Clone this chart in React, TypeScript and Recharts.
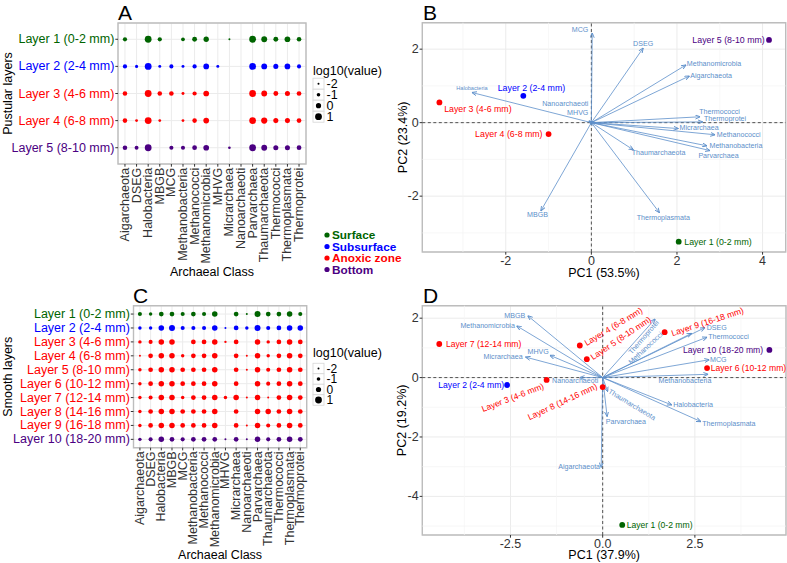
import React from "react";
import {
  ScatterChart,
  Scatter,
  XAxis,
  YAxis,
  CartesianGrid,
  ReferenceLine,
  ReferenceArea,
} from "recharts";

const FONT = '"Liberation Sans", Arial, Helvetica, sans-serif';
const TICK_COLOR = "#333333";
const GRID_COLOR = "#ebebeb";
const MINOR_GRID_COLOR = "#f4f4f4";
const BORDER_COLOR = "#bdbdbd";
const ARROW_COLOR = "#5d8fca";
const ZERO_LINE_COLOR = "#404040";

const ZONE_KEYS = ["surface", "subsurface", "anoxic", "bottom"];
const ZONE_LABELS = ["Surface", "Subsurface", "Anoxic zone", "Bottom"];
const ZONE_COLORS: Record<string, string> = {
  surface: "#006400",
  subsurface: "#0000ff",
  anoxic: "#ff0000",
  bottom: "#4b0082",
};

const CLASSES = [
  "Aigarchaeota",
  "DSEG",
  "Halobacteria",
  "MBGB",
  "MCG",
  "Methanobacteria",
  "Methanococci",
  "Methanomicrobia",
  "MHVG",
  "Micrarchaea",
  "Nanoarchaeoti",
  "Parvarchaea",
  "Thaumarchaeota",
  "Thermococci",
  "Thermoplasmata",
  "Thermoprotei",
];

// legend breaks of the size scale, log10(value)
const SIZE_KEYS = [-2, -1, 0, 1];

// ---- panel A: pustular layers, log10(value) per class (null = absent)
const A_LAYERS = [
  "Layer 1 (0-2 mm)",
  "Layer 2 (2-4 mm)",
  "Layer 3 (4-6 mm)",
  "Layer 4 (6-8 mm)",
  "Layer 5 (8-10 mm)",
];
const A_ZONES = ["surface", "subsurface", "anoxic", "anoxic", "bottom"];
const A_LAYER1 = [-0.6, null, 1, -0.6, null, -0.9, -0.2, 0.1, null, -2, null, 1, 0.4, -0.2, 0.3, -0.4];
const A_LAYER2 = [-0.6, -1.3, 1, -1.4, -0.7, -1.4, -0.6, 0.3, -1.4, null, null, 1, 0.4, -0.1, 0.3, -0.7];
const A_LAYER3 = [-0.4, null, 1, -0.4, -0.4, -1.4, -0.6, 0.3, null, null, null, 1, 0.4, -0.2, -0.1, -0.3];
const A_LAYER4 = [-0.4, -1.5, 1, -1.5, null, -1.5, -0.4, 0.3, null, null, null, 1, 0.6, -0.1, -0.1, -0.3];
const A_LAYER5 = [-0.4, -0.8, 1, null, -0.7, -0.7, -0.3, 0.3, null, -1.6, null, 1, 0.4, -0.1, -0.1, -0.3];
const A_ROWS = [A_LAYER1, A_LAYER2, A_LAYER3, A_LAYER4, A_LAYER5];

// ---- panel C: smooth layers
const C_LAYERS = [
  "Layer 1 (0-2 mm)",
  "Layer 2 (2-4 mm)",
  "Layer 3 (4-6 mm)",
  "Layer 4 (6-8 mm)",
  "Layer 5 (8-10 mm)",
  "Layer 6 (10-12 mm)",
  "Layer 7 (12-14 mm)",
  "Layer 8 (14-16 mm)",
  "Layer 9 (16-18 mm)",
  "Layer 10 (18-20 mm)",
];
const C_ZONES = [
  "surface",
  "subsurface",
  "anoxic",
  "anoxic",
  "anoxic",
  "anoxic",
  "anoxic",
  "anoxic",
  "anoxic",
  "bottom",
];
const C_LAYER1 = [-0.7, -1.1, -0.3, -0.3, -0.7, -0.3, -0.7, 0.2, null, -0.3, -2, 0.5, -0.3, -0.3, 0.2, -0.7];
const C_LAYER2 = [-1.1, -1.1, 0.2, 0.5, -0.7, -0.7, -0.7, 0.2, -2, -0.3, -1.1, 0.5, -0.7, -0.3, 0.2, 0.2];
const C_LAYER3 = [-1.1, -0.7, 0.2, 0.2, null, -0.3, -0.3, 0.2, -1.8, -0.3, null, 0.2, -1.1, -0.3, 0.2, -0.3];
const C_LAYER4 = [-2, -0.3, 0.2, 0.2, -1.1, -0.3, -0.3, 0.2, null, -0.3, -2, 0.2, -1.1, -0.3, 0.2, -0.3];
const C_LAYER5 = [-1.1, -0.3, 0.2, 0.2, -0.3, -0.3, -0.3, 0.2, null, -0.3, -2, 0.2, -0.7, -0.3, 0.2, -0.3];
const C_LAYER6 = [-1.1, -0.3, 0.2, 0.2, -0.3, -0.3, -0.3, 0.2, null, -0.3, null, 0.2, -0.7, -0.3, 0.2, -0.3];
const C_LAYER7 = [-1.1, -0.7, 0.2, 0.2, -1.1, -0.3, -0.3, 0.2, -1.1, 0.2, -2, 0.2, -2, -0.3, 0.2, -0.3];
const C_LAYER8 = [-1.1, -0.3, 0.2, 0.2, -0.3, -0.3, -0.3, 0.2, null, -0.3, null, 0.2, 0.2, -0.3, 0.2, -0.3];
const C_LAYER9 = [-1.1, -0.3, 0.2, 0.2, -0.3, -0.3, -0.3, 0.2, null, -0.3, -2, 0.2, -0.7, -0.3, 0.2, -0.3];
const C_LAYER10 = [-1.1, -0.7, 0.2, -0.3, -0.7, -0.3, -0.3, -0.3, -2, -0.3, -2, 0.2, -0.7, -0.3, 0.2, -0.3];
const C_ROWS = [C_LAYER1, C_LAYER2, C_LAYER3, C_LAYER4, C_LAYER5, C_LAYER6, C_LAYER7, C_LAYER8, C_LAYER9, C_LAYER10];

// ---- panel B: PCA of pustular layers
const B_ZONES = ["surface", "subsurface", "anoxic", "anoxic", "bottom"];
const B_PC1 = [2.04, -1.59, -3.55, -1.0, 4.15];
const B_PC2 = [-3.24, 0.73, 0.55, -0.31, 2.25];
const B_SAMPLE_LABEL_X = [2.17, -1.4, -3.44, -1.14, 4.05];
const B_SAMPLE_LABEL_Y = [-3.24, 0.94, 0.38, -0.31, 2.25];
const B_SAMPLE_ANCHOR = ["start", "middle", "start", "end", "end"];
// loadings, in CLASSES order
const B_LOAD_PC1 = [2.29, 1.21, -2.79, -1.18, 0.02, 2.7, 2.89, 2.21, -0.05, 2.03, -0.06, 2.77, 0.98, 2.54, 1.59, 2.6];
const B_LOAD_PC2 = [1.27, 2.03, 0.82, -2.4, 2.44, -0.63, -0.33, 1.57, 0.03, -0.16, 0.05, -0.76, -0.74, 0.16, -2.45, 0.02];
const B_VAR_LABEL_X = [2.31, 1.21, -2.79, -1.26, -0.07, 2.76, 2.93, 2.23, -0.07, 2.06, -0.07, 2.97, 1.57, 2.52, 1.68, 2.63];
const B_VAR_LABEL_Y = [1.27, 2.14, 0.94, -2.51, 2.52, -0.63, -0.33, 1.59, 0.26, -0.15, 0.5, -0.91, -0.83, 0.28, -2.59, 0.1];
const B_VAR_ANCHOR = ["start", "middle", "middle", "middle", "end", "start", "start", "start", "end", "start", "end", "middle", "middle", "start", "middle", "start"];
const B_SMALL_LABELS = ["Halobacteria"];

// ---- panel D: PCA of smooth layers
const D_PC1 = [0.53, -2.59, -1.52, -0.62, -0.43, 2.83, -4.43, 0.0, 1.68, 4.52];
const D_PC2 = [-4.96, -0.25, -0.08, 1.08, 0.62, 0.32, 1.13, -0.32, 1.53, 0.93];
const D_SAMPLE_LABEL_X = [0.65, -2.67, -2.44, 0.29, 0.49, 2.93, -4.25, -1.09, 2.84, 4.35];
const D_SAMPLE_LABEL_Y = [-4.96, -0.25, -0.67, 1.72, 1.33, 0.32, 1.13, -0.81, 1.88, 0.93];
const D_SAMPLE_ANCHOR = ["start", "end", "middle", "middle", "middle", "start", "start", "middle", "middle", "end"];
const D_SAMPLE_ANGLE = [0, 0, -21, -31, -34, 0, 0, -25, -18, 0];
const D_LOAD_PC1 = [-0.04, 2.77, 1.87, -2.03, 2.89, 2.86, 2.41, -2.33, -1.43, -2.09, -0.62, 0.12, 0.135, 2.83, 2.66, 1.42];
const D_LOAD_PC2 = [-3.02, 1.68, -0.92, 2.08, 0.6, 0.11, 1.49, 1.74, 0.75, 0.69, 0.0, -1.31, -0.47, 1.36, -1.48, 1.97];
const D_VAR_LABEL_X = [-0.07, 2.82, 1.91, -2.1, 2.91, 2.23, 1.17, -2.38, -1.75, -2.17, -0.12, 0.63, 0.79, 2.86, 2.7, 1.12];
const D_VAR_LABEL_Y = [-3.0, 1.68, -0.94, 2.09, 0.6, -0.11, 0.98, 1.75, 0.85, 0.69, -0.11, -1.48, -0.92, 1.36, -1.56, 1.35];
const D_VAR_ANCHOR = ["end", "start", "start", "end", "start", "middle", "middle", "end", "middle", "end", "end", "middle", "middle", "start", "start", "middle"];
const D_VAR_ANGLE = [0, 0, 0, 0, 0, 0, -43, 0, 0, 0, 0, 0, 31, 0, 0, -49];

// dot radius from log10(value)
const rad = (v: number) => 1 + (v + 2) * 0.8;

function ArrowDefs() {
  return (
    <svg width={0} height={0} style={{ position: "absolute" }}>
      <defs>
        <marker
          id="pcaArrow"
          viewBox="0 0 10 10"
          refX="9.5"
          refY="5"
          markerWidth="5"
          markerHeight="5"
          markerUnits="userSpaceOnUse"
          orient="auto"
        >
          <path d="M0,1 L10,5 L0,9" fill="none" stroke={ARROW_COLOR} strokeWidth={1.8} />
        </marker>
      </defs>
    </svg>
  );
}

// rotated axis title drawn from the axis' viewBox
const yTitle = (text: string, dx: number) => (props: any) => {
  const vb = props.viewBox;
  const cx = vb.x + dx;
  const cy = vb.y + vb.height / 2;
  return (
    <text
      x={cx}
      y={cy}
      transform={`rotate(-90 ${cx} ${cy})`}
      textAnchor="middle"
      dominantBaseline="central"
      fontSize={12.5}
      fontFamily={FONT}
      fill="#000"
    >
      {text}
    </text>
  );
};

const xTitle = (text: string, dy: number) => (props: any) => {
  const vb = props.viewBox;
  return (
    <text
      x={vb.x + vb.width / 2}
      y={vb.y + dy}
      textAnchor="middle"
      dominantBaseline="central"
      fontSize={12.5}
      fontFamily={FONT}
      fill="#000"
    >
      {text}
    </text>
  );
};

function SizeKey({ x, titleY, keyY, step, fontSize }: any) {
  return (
    <g fontFamily={FONT}>
      <text x={x} y={titleY} dominantBaseline="central" fontSize={12.5} fill="#000">
        log10(value)
      </text>
      {SIZE_KEYS.map((v, i) => {
        const cy = keyY + i * step;
        return (
          <g key={v}>
            <rect x={x} y={cy - step / 2} width={11} height={step} fill="#fff" stroke="#d6d6d6" strokeWidth={0.8} />
            <circle cx={x + 5.5} cy={cy} r={rad(v)} fill="#000" />
            <text x={x + 13.5} y={cy} dominantBaseline="central" fontSize={fontSize} fill="#000">
              {v}
            </text>
          </g>
        );
      })}
    </g>
  );
}

function ZoneKey({ x, y, step }: any) {
  return (
    <g fontFamily={FONT}>
      {ZONE_KEYS.map((z, i) => (
        <g key={z}>
          <circle cx={x} cy={y + i * step} r={2.6} fill={ZONE_COLORS[z]} />
          <text
            x={x + 5}
            y={y + i * step}
            dominantBaseline="central"
            fontSize={11.8}
            fontWeight="bold"
            fill={ZONE_COLORS[z]}
          >
            {ZONE_LABELS[i]}
          </text>
        </g>
      ))}
    </g>
  );
}

interface DotProps {
  rows: (number | null)[][];
  layers: string[];
  zones: string[];
  width: number;
  height: number;
  margin: { top: number; right: number; bottom: number; left: number };
  yWidth: number;
  xHeight: number;
  yTitleText: string;
  xTitleDy: number;
}

function DotPanel(p: DotProps) {
  const n = p.layers.length;
  const LayerTick = (t: any) => (
    <text
      x={t.x}
      y={t.y}
      textAnchor="end"
      dominantBaseline="central"
      fontSize={12.5}
      fontFamily={FONT}
      fill={ZONE_COLORS[p.zones[t.payload.value]]}
    >
      {p.layers[t.payload.value]}
    </text>
  );
  const ClassTick = (t: any) => (
    <text
      x={t.x}
      y={t.y}
      transform={`rotate(-90 ${t.x} ${t.y})`}
      textAnchor="end"
      dominantBaseline="central"
      fontSize={12.5}
      fontFamily={FONT}
      fill={TICK_COLOR}
    >
      {CLASSES[t.payload.value]}
    </text>
  );
  return (
    <ScatterChart width={p.width} height={p.height} margin={p.margin}>
      <CartesianGrid stroke={GRID_COLOR} />
      <XAxis
        type="number"
        dataKey="x"
        domain={[-0.6, CLASSES.length - 0.4]}
        ticks={CLASSES.map((_, i) => i)}
        interval={0}
        height={p.xHeight}
        axisLine={false}
        tickSize={2.7}
        tickMargin={1}
        tickLine={{ stroke: TICK_COLOR }}
        tick={ClassTick}
        label={{ content: xTitle("Archaeal Class", p.xTitleDy) }}
      />
      <YAxis
        type="number"
        dataKey="y"
        reversed
        domain={[-0.6, n - 0.4]}
        ticks={p.layers.map((_, i) => i)}
        interval={0}
        width={p.yWidth}
        axisLine={false}
        tickSize={2.7}
        tickMargin={1}
        tickLine={{ stroke: TICK_COLOR }}
        tick={LayerTick}
        label={{ content: yTitle(p.yTitleText, 8) }}
      />
      <ReferenceArea
        x1={-0.6}
        x2={CLASSES.length - 0.4}
        y1={-0.6}
        y2={n - 0.4}
        fill="none"
        stroke={BORDER_COLOR}
        strokeWidth={1.4}
        ifOverflow="visible"
      />
      {p.rows.map((row, ri) => {
        const color = ZONE_COLORS[p.zones[ri]];
        const data = row
          .map((v, ci) => ({ x: ci, y: ri, v }))
          .filter((d) => d.v !== null);
        return (
          <Scatter
            key={p.layers[ri]}
            data={data}
            fill={color}
            isAnimationActive={false}
            shape={(s: any) => <circle cx={s.cx} cy={s.cy} r={rad(s.payload.v)} fill={color} />}
          />
        );
      })}
    </ScatterChart>
  );
}

interface PcaProps {
  width: number;
  height: number;
  margin: { top: number; right: number; bottom: number; left: number };
  yWidth: number;
  xHeight: number;
  xDomain: number[];
  yDomain: number[];
  xTicks: number[];
  yTicks: number[];
  xMinor: number[];
  yMinor: number[];
  xFmt: (v: number) => string;
  loadX: number[];
  loadY: number[];
  varLabels: any[];
  samples: any[];
  sampleLabels: any[];
  xTitleText: string;
  yTitleText: string;
  xTitleDy: number;
  yTitleDx: number;
}

const textShape = (s: any) => {
  const d = s.payload;
  return (
    <text
      x={s.cx}
      y={s.cy}
      textAnchor={d.anchor}
      dominantBaseline="central"
      fontSize={d.size}
      fontFamily={FONT}
      fill={d.color}
      transform={d.angle ? `rotate(${d.angle} ${s.cx} ${s.cy})` : undefined}
    >
      {d.text}
    </text>
  );
};

function PcaPanel(p: PcaProps) {
  const XTick = (t: any) => (
    <text
      x={t.x}
      y={t.y + 5}
      textAnchor="middle"
      dominantBaseline="central"
      fontSize={12.5}
      fontFamily={FONT}
      fill={TICK_COLOR}
    >
      {p.xFmt(t.payload.value)}
    </text>
  );
  const YTick = (t: any) => (
    <text
      x={t.x}
      y={t.y}
      textAnchor="end"
      dominantBaseline="central"
      fontSize={12.5}
      fontFamily={FONT}
      fill={TICK_COLOR}
    >
      {t.payload.value}
    </text>
  );
  return (
    <ScatterChart width={p.width} height={p.height} margin={p.margin}>
      <CartesianGrid stroke={GRID_COLOR} />
      {p.xMinor.map((v) => (
        <ReferenceLine key={`mx${v}`} x={v} stroke={MINOR_GRID_COLOR} strokeWidth={0.7} />
      ))}
      {p.yMinor.map((v) => (
        <ReferenceLine key={`my${v}`} y={v} stroke={MINOR_GRID_COLOR} strokeWidth={0.7} />
      ))}
      <XAxis
        type="number"
        dataKey="x"
        domain={p.xDomain}
        ticks={p.xTicks}
        interval={0}
        height={p.xHeight}
        axisLine={false}
        tickSize={2.7}
        tickMargin={1}
        tickLine={{ stroke: TICK_COLOR }}
        tick={XTick}
        label={{ content: xTitle(p.xTitleText, p.xTitleDy) }}
      />
      <YAxis
        type="number"
        dataKey="y"
        domain={p.yDomain}
        ticks={p.yTicks}
        interval={0}
        width={p.yWidth}
        axisLine={false}
        tickSize={2.7}
        tickMargin={1}
        tickLine={{ stroke: TICK_COLOR }}
        tick={YTick}
        label={{ content: yTitle(p.yTitleText, p.yTitleDx) }}
      />
      <ReferenceLine x={0} stroke={ZERO_LINE_COLOR} strokeDasharray="3 2.5" strokeWidth={0.9} />
      <ReferenceLine y={0} stroke={ZERO_LINE_COLOR} strokeDasharray="3 2.5" strokeWidth={0.9} />
      <ReferenceArea
        x1={p.xDomain[0]}
        x2={p.xDomain[1]}
        y1={p.yDomain[0]}
        y2={p.yDomain[1]}
        fill="none"
        stroke={BORDER_COLOR}
        strokeWidth={1.4}
        ifOverflow="visible"
      />
      {CLASSES.map((name, i) => (
        <Scatter
          key={`arrow-${name}`}
          data={[
            { x: 0, y: 0 },
            { x: p.loadX[i], y: p.loadY[i] },
          ]}
          line={{ stroke: ARROW_COLOR, strokeWidth: 0.8, markerEnd: "url(#pcaArrow)" }}
          shape={() => <g />}
          isAnimationActive={false}
        />
      ))}
      <Scatter data={p.varLabels} shape={textShape} isAnimationActive={false} />
      <Scatter
        data={p.samples}
        isAnimationActive={false}
        shape={(s: any) => <circle cx={s.cx} cy={s.cy} r={2.9} fill={ZONE_COLORS[s.payload.zone]} />}
      />
      <Scatter data={p.sampleLabels} shape={textShape} isAnimationActive={false} />
    </ScatterChart>
  );
}

const bSamples = B_PC1.map((x, i) => ({ x, y: B_PC2[i], zone: B_ZONES[i] }));
const bSampleLabels = A_LAYERS.map((text, i) => ({
  x: B_SAMPLE_LABEL_X[i],
  y: B_SAMPLE_LABEL_Y[i],
  text,
  anchor: B_SAMPLE_ANCHOR[i],
  angle: 0,
  size: 8.8,
  color: ZONE_COLORS[B_ZONES[i]],
}));
const bVarLabels = CLASSES.map((text, i) => ({
  x: B_VAR_LABEL_X[i],
  y: B_VAR_LABEL_Y[i],
  text,
  anchor: B_VAR_ANCHOR[i],
  angle: 0,
  size: B_SMALL_LABELS.includes(text) ? 5.6 : 7.1,
  color: ARROW_COLOR,
}));

const dSamples = D_PC1.map((x, i) => ({ x, y: D_PC2[i], zone: C_ZONES[i] }));
const dSampleLabels = C_LAYERS.map((text, i) => ({
  x: D_SAMPLE_LABEL_X[i],
  y: D_SAMPLE_LABEL_Y[i],
  text,
  anchor: D_SAMPLE_ANCHOR[i],
  angle: D_SAMPLE_ANGLE[i],
  size: 8.6,
  color: ZONE_COLORS[C_ZONES[i]],
}));
const dVarLabels = CLASSES.map((text, i) => ({
  x: D_VAR_LABEL_X[i],
  y: D_VAR_LABEL_Y[i],
  text,
  anchor: D_VAR_ANCHOR[i],
  angle: D_VAR_ANGLE[i],
  size: 7.1,
  color: ARROW_COLOR,
}));

// panel letters and the shared legends, in page coordinates
function Overlay() {
  const tags = [
    { t: "A", x: 118, y: 20 },
    { t: "B", x: 423, y: 19.5 },
    { t: "C", x: 133, y: 303 },
    { t: "D", x: 423, y: 302.5 },
  ];
  return (
    <svg
      width={787}
      height={563}
      style={{ position: "absolute", left: 0, top: 0, pointerEvents: "none" }}
    >
      {tags.map((g) => (
        <text key={g.t} x={g.x} y={g.y} fontSize={21} fontFamily={FONT} fill="#000">
          {g.t}
        </text>
      ))}
      <SizeKey x={313} titleY={71} keyY={83.7} step={11} fontSize={12.5} />
      <ZoneKey x={327} y={235} step={11.5} />
      <SizeKey x={313} titleY={353} keyY={368.5} step={10.5} fontSize={12} />
    </svg>
  );
}

export default function App() {
  return (
    <div
      style={{
        position: "absolute",
        left: 0,
        top: 0,
        width: 787,
        height: 563,
        background: "#fff",
        overflow: "hidden",
        fontFamily: FONT,
      }}
    >
      <ArrowDefs />
      <div style={{ position: "absolute", left: 0, top: 0 }}>
        <DotPanel
          rows={A_ROWS}
          layers={A_LAYERS}
          zones={A_ZONES}
          width={310}
          height={280}
          margin={{ top: 23, right: 4, bottom: 0, left: 0 }}
          yWidth={118}
          xHeight={116}
          yTitleText="Pustular layers"
          xTitleDy={108}
        />
      </div>
      <div style={{ position: "absolute", left: 0, top: 280 }}>
        <DotPanel
          rows={C_ROWS}
          layers={C_LAYERS}
          zones={C_ZONES}
          width={311}
          height={283}
          margin={{ top: 25.7, right: 4.3, bottom: 0, left: 0 }}
          yWidth={133.5}
          xHeight={115.3}
          yTitleText="Smooth layers"
          xTitleDy={107.3}
        />
      </div>
      <div style={{ position: "absolute", left: 380, top: 0 }}>
        <PcaPanel
          width={407}
          height={282}
          margin={{ top: 22.7, right: 1.3, bottom: 0, left: 0 }}
          yWidth={42.3}
          xHeight={30}
          xDomain={[-3.95, 4.54]}
          yDomain={[-3.52, 2.72]}
          xTicks={[-2, 0, 2, 4]}
          yTicks={[-2, 0, 2]}
          xMinor={[-3, -1, 1, 3]}
          yMinor={[-3, -1, 1]}
          xFmt={(v) => String(v)}
          loadX={B_LOAD_PC1}
          loadY={B_LOAD_PC2}
          varLabels={bVarLabels}
          samples={bSamples}
          sampleLabels={bSampleLabels}
          xTitleText="PC1 (53.5%)"
          yTitleText="PC2 (23.4%)"
          xTitleDy={21}
          yTitleDx={23}
        />
      </div>
      <div style={{ position: "absolute", left: 380, top: 280 }}>
        <PcaPanel
          width={407}
          height={283}
          margin={{ top: 25.7, right: 1, bottom: 0, left: 0 }}
          yWidth={42.3}
          xHeight={28}
          xDomain={[-4.89, 4.97]}
          yDomain={[-5.3, 2.42]}
          xTicks={[-2.5, 0, 2.5]}
          yTicks={[-4, -2, 0, 2]}
          xMinor={[-3.75, -1.25, 1.25, 3.75]}
          yMinor={[-5, -3, -1, 1]}
          xFmt={(v) => v.toFixed(1)}
          loadX={D_LOAD_PC1}
          loadY={D_LOAD_PC2}
          varLabels={dVarLabels}
          samples={dSamples}
          sampleLabels={dSampleLabels}
          xTitleText="PC1 (37.9%)"
          yTitleText="PC2 (19.2%)"
          xTitleDy={20}
          yTitleDx={22.5}
        />
      </div>
      <Overlay />
    </div>
  );
}
